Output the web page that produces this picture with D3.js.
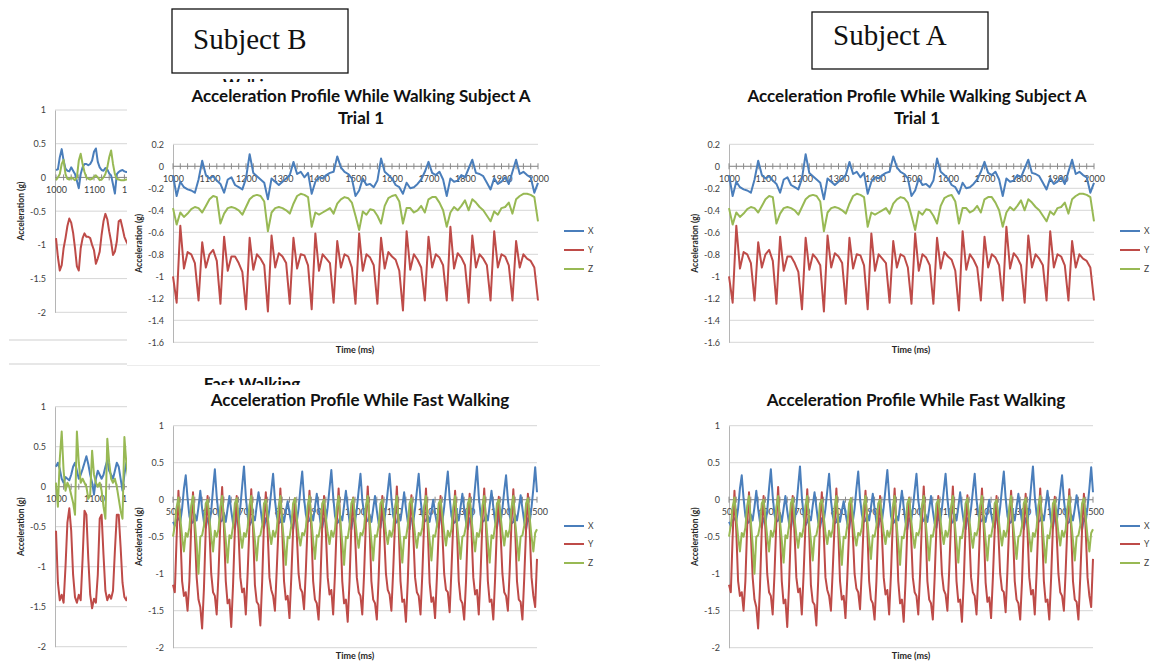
<!DOCTYPE html>
<html>
<head>
<meta charset="utf-8">
<script src="https://cdn.jsdelivr.net/npm/d3@7"></script>
<style>
  body { margin: 0; background: #fff; }
  svg { font-family: Lato, "Liberation Sans", sans-serif; }
</style>
</head>
<body>
<svg id="fig" width="1151" height="665"></svg>
<script>
// ---- data ----
const seriesNames = ["X", "Y", "Z"];

// walking, subject A (trial 1), sampled every 10 ms
const walkTimes = d3.range(1000, 2001, 10);
const walkX = [-0.08, -0.27, -0.14, -0.19, -0.21, -0.22, -0.24, -0.12, 0.05, -0.08,
  -0.11, -0.09, -0.13, -0.16, -0.24, -0.12, -0.10, -0.17, -0.19, -0.21,
  -0.11, 0.11, -0.06, -0.09, -0.12, -0.15, -0.30, -0.11, -0.14, -0.17,
  -0.14, -0.11, -0.08, 0.04, -0.07, -0.05, -0.10, -0.06, -0.25, -0.14,
  -0.10, -0.11, -0.08, -0.06, -0.05, 0.09, -0.01, -0.05, -0.07, -0.11,
  -0.27, -0.22, -0.11, -0.17, -0.16, -0.19, -0.13, 0.07, -0.05, -0.08,
  -0.11, -0.17, -0.19, -0.25, -0.15, -0.20, -0.19, -0.16, -0.12, -0.05,
  0.04, -0.06, -0.08, -0.05, -0.12, -0.27, -0.11, -0.14, -0.13, -0.08,
  -0.10, -0.02, 0.06, -0.06, -0.07, -0.09, -0.15, -0.21, -0.11, -0.16,
  -0.14, -0.10, -0.16, -0.05, 0.06, -0.07, -0.05, -0.08, -0.10, -0.24,
  -0.15];
const walkY = [-1.00, -1.24, -0.54, -0.93, -0.78, -0.80, -0.88, -1.22, -0.69, -0.92,
  -0.80, -0.76, -0.86, -1.25, -0.64, -0.95, -0.82, -0.82, -0.88, -0.96,
  -1.30, -0.65, -0.94, -0.80, -0.84, -0.90, -1.32, -0.63, -0.92, -0.79,
  -0.82, -0.88, -1.25, -0.65, -0.93, -0.80, -0.81, -0.90, -1.30, -0.61,
  -0.95, -0.80, -0.84, -0.88, -1.24, -0.68, -0.92, -0.80, -0.82, -0.92,
  -1.25, -0.61, -0.95, -0.80, -0.83, -0.90, -1.25, -0.65, -0.93, -0.78,
  -0.82, -0.85, -0.95, -1.31, -0.59, -0.94, -0.80, -0.85, -0.92, -1.22,
  -0.64, -0.92, -0.80, -0.83, -0.90, -1.22, -0.55, -0.93, -0.79, -0.83,
  -0.90, -1.24, -0.63, -0.92, -0.80, -0.84, -0.90, -1.22, -0.59, -0.92,
  -0.80, -0.82, -0.90, -1.22, -0.68, -0.92, -0.80, -0.84, -0.86, -0.92,
  -1.22];
const walkZ = [-0.38, -0.53, -0.42, -0.46, -0.43, -0.39, -0.37, -0.38, -0.42, -0.36,
  -0.30, -0.27, -0.28, -0.52, -0.43, -0.38, -0.37, -0.38, -0.40, -0.44,
  -0.37, -0.30, -0.27, -0.26, -0.27, -0.32, -0.59, -0.42, -0.38, -0.37,
  -0.38, -0.40, -0.43, -0.34, -0.27, -0.25, -0.26, -0.28, -0.55, -0.42,
  -0.44, -0.42, -0.40, -0.38, -0.43, -0.34, -0.30, -0.28, -0.29, -0.33,
  -0.45, -0.58, -0.41, -0.44, -0.39, -0.40, -0.45, -0.52, -0.36, -0.29,
  -0.27, -0.26, -0.32, -0.52, -0.38, -0.38, -0.42, -0.40, -0.36, -0.42,
  -0.30, -0.28, -0.28, -0.33, -0.40, -0.55, -0.42, -0.37, -0.40, -0.36,
  -0.31, -0.40, -0.30, -0.33, -0.37, -0.40, -0.45, -0.50, -0.41, -0.44,
  -0.38, -0.37, -0.33, -0.43, -0.30, -0.27, -0.25, -0.25, -0.26, -0.28,
  -0.50];

// fast walking, subject A, sampled every 5 ms
const fastTimes = d3.range(500, 1501, 5);
const fastX = [-0.30, -0.35, -0.28,
  -0.25, -0.30, -0.12, 0.15, 0.33, 0.02, -0.22, -0.32,
  -0.30, -0.20, -0.28, -0.10, 0.12, -0.12, -0.30, -0.38,
  -0.25, -0.32, -0.15, 0.15, 0.41, 0.05, -0.20, -0.30,
  -0.28, -0.18, -0.30, -0.12, 0.05, -0.15, -0.32, -0.40,
  -0.22, -0.30, -0.10, 0.18, 0.45, 0.05, -0.22, -0.35,
  -0.30, -0.22, -0.28, -0.08, 0.10, -0.10, -0.30, -0.38,
  -0.25, -0.30, -0.12, 0.12, 0.35, 0.00, -0.22, -0.32,
  -0.30, -0.20, -0.30, -0.15, -0.02, -0.18, -0.32, -0.40,
  -0.22, -0.30, -0.12, 0.15, 0.38, 0.02, -0.20, -0.30,
  -0.28, -0.20, -0.28, -0.10, 0.08, -0.12, -0.30, -0.38,
  -0.25, -0.30, -0.10, 0.15, 0.40, 0.05, -0.22, -0.32,
  -0.30, -0.22, -0.28, -0.08, 0.12, -0.10, -0.30, -0.40,
  -0.25, -0.30, -0.12, 0.12, 0.35, 0.00, -0.20, -0.30,
  -0.28, -0.20, -0.30, -0.12, 0.05, -0.15, -0.32, -0.38,
  -0.22, -0.30, -0.12, 0.12, 0.35, 0.02, -0.22, -0.32,
  -0.30, -0.20, -0.28, -0.10, 0.10, -0.12, -0.30, -0.40,
  -0.25, -0.30, -0.12, 0.12, 0.35, 0.00, -0.20, -0.30,
  -0.28, -0.22, -0.30, -0.15, 0.00, -0.18, -0.32, -0.38,
  -0.22, -0.30, -0.10, 0.15, 0.38, 0.02, -0.22, -0.32,
  -0.30, -0.20, -0.28, -0.10, 0.08, -0.12, -0.30, -0.40,
  -0.25, -0.30, -0.10, 0.18, 0.45, 0.05, -0.20, -0.30,
  -0.28, -0.20, -0.28, -0.08, 0.12, -0.10, -0.30, -0.38,
  -0.22, -0.30, -0.12, 0.12, 0.33, 0.00, -0.22, -0.32,
  -0.30, -0.20, -0.28, -0.12, 0.06, -0.12, -0.30, -0.40,
  -0.25, -0.30, -0.10, 0.15, 0.44, 0.10];
const fastY = [-1.15, -1.25, -0.50,
  0.12, -0.42, -1.10, -1.30, -1.25, -1.50, -1.10, -0.35,
  0.10, -0.45, -1.05, -1.35, -1.45, -1.74, -1.20, -0.40,
  0.05, -0.40, -1.00, -1.25, -1.30, -1.55, -1.00, -0.30,
  0.17, -0.38, -1.10, -1.40, -1.35, -1.72, -1.15, -0.40,
  0.05, -0.45, -1.05, -1.25, -1.20, -1.55, -1.00, -0.35,
  0.14, -0.40, -1.15, -1.38, -1.42, -1.70, -1.10, -0.30,
  0.10, -0.42, -1.05, -1.22, -1.30, -1.50, -0.95, -0.35,
  0.15, -0.40, -1.10, -1.35, -1.30, -1.60, -1.05, -0.40,
  0.02, -0.45, -1.00, -1.20, -1.25, -1.48, -0.95, -0.30,
  0.12, -0.40, -1.10, -1.35, -1.40, -1.62, -1.10, -0.35,
  0.05, -0.45, -1.05, -1.28, -1.22, -1.55, -1.00, -0.30,
  0.15, -0.38, -1.10, -1.40, -1.35, -1.65, -1.10, -0.35,
  0.03, -0.45, -1.05, -1.25, -1.30, -1.55, -1.00, -0.30,
  0.18, -0.35, -1.10, -1.35, -1.40, -1.62, -1.05, -0.35,
  0.05, -0.45, -1.00, -1.22, -1.28, -1.50, -0.95, -0.30,
  0.18, -0.38, -1.10, -1.38, -1.35, -1.65, -1.10, -0.35,
  0.06, -0.45, -1.05, -1.25, -1.30, -1.55, -1.00, -0.30,
  0.15, -0.40, -1.12, -1.38, -1.32, -1.60, -1.05, -0.40,
  0.05, -0.45, -1.00, -1.22, -1.25, -1.52, -0.95, -0.30,
  0.12, -0.40, -1.10, -1.35, -1.40, -1.62, -1.10, -0.35,
  0.08, -0.42, -1.05, -1.28, -1.22, -1.55, -1.00, -0.30,
  0.15, -0.38, -1.10, -1.38, -1.35, -1.62, -1.05, -0.35,
  0.04, -0.45, -1.00, -1.25, -1.30, -1.50, -0.95, -0.30,
  0.14, -0.40, -1.10, -1.35, -1.38, -1.62, -1.05, -0.40,
  0.08, -0.42, -1.05, -1.30, -1.45, -0.80];
const fastZ = [-0.50, -0.35, -0.10,
  0.03, -0.25, -0.50, -0.70, -0.45, -0.50, -0.38, -0.08,
  0.05, -0.30, -0.60, -1.00, -0.50, -0.48, -0.35, -0.05,
  0.00, -0.25, -0.50, -0.70, -0.42, -0.50, -0.40, -0.10,
  0.05, -0.28, -0.55, -0.85, -0.48, -0.52, -0.35, -0.05,
  0.02, -0.25, -0.48, -0.65, -0.45, -0.50, -0.38, -0.08,
  0.05, -0.30, -0.55, -0.82, -0.50, -0.48, -0.35, -0.05,
  0.00, -0.22, -0.45, -0.60, -0.42, -0.50, -0.40, -0.10,
  0.05, -0.30, -0.58, -0.88, -0.50, -0.52, -0.35, -0.05,
  0.02, -0.25, -0.48, -0.62, -0.45, -0.48, -0.38, -0.08,
  0.05, -0.28, -0.55, -0.80, -0.48, -0.50, -0.35, -0.05,
  0.00, -0.25, -0.45, -0.60, -0.42, -0.50, -0.40, -0.10,
  0.05, -0.30, -0.58, -0.88, -0.50, -0.52, -0.35, -0.05,
  0.02, -0.25, -0.48, -0.65, -0.45, -0.48, -0.38, -0.08,
  0.05, -0.28, -0.55, -0.82, -0.48, -0.50, -0.35, -0.05,
  0.00, -0.22, -0.45, -0.60, -0.42, -0.50, -0.40, -0.10,
  0.05, -0.30, -0.58, -0.85, -0.50, -0.52, -0.35, -0.05,
  0.02, -0.25, -0.48, -0.65, -0.45, -0.48, -0.38, -0.08,
  0.05, -0.28, -0.55, -0.82, -0.48, -0.50, -0.35, -0.05,
  0.00, -0.22, -0.45, -0.62, -0.42, -0.50, -0.40, -0.10,
  0.05, -0.30, -0.55, -0.80, -0.50, -0.48, -0.35, -0.05,
  0.02, -0.25, -0.50, -0.70, -0.45, -0.50, -0.38, -0.08,
  0.05, -0.28, -0.58, -0.85, -0.48, -0.52, -0.35, -0.05,
  0.00, -0.22, -0.45, -0.62, -0.42, -0.50, -0.40, -0.10,
  0.05, -0.30, -0.55, -0.82, -0.50, -0.48, -0.35, -0.05,
  0.02, -0.25, -0.50, -0.70, -0.45, -0.40];

// subject B, only the first ~190 ms are visible (rest hidden under A's chart)
const partTimes = d3.range(1000, 1191, 5);
const walkBX = [0.11, 0.12, 0.30, 0.42, 0.25, 0.13, 0.10, 0.09, 0.15, 0.10,
  0.05, -0.05, -0.16, 0.05, 0.15, 0.20, 0.20, 0.18, 0.20, 0.25,
  0.38, 0.43, 0.23, 0.15, 0.11, 0.10, 0.14, 0.12, 0.06, 0.03,
  -0.10, -0.24, 0.05, 0.08, 0.10, 0.11, 0.09, 0.08, 0.08];
const walkBY = [-0.90, -1.18, -1.38, -1.30, -1.05, -0.90, -0.72, -0.61, -0.67, -0.82,
  -1.05, -1.32, -1.38, -1.05, -0.90, -0.83, -0.88, -0.88, -0.90, -1.00,
  -1.08, -1.28, -1.20, -1.10, -0.85, -0.65, -0.54, -0.62, -0.80, -0.95,
  -1.15, -1.10, -0.95, -0.65, -0.63, -0.75, -0.88, -0.95, -1.00];
const walkBZ = [-0.04, 0.00, 0.05, 0.20, 0.26, 0.05, -0.02, -0.03, 0.00, -0.02,
  -0.04, 0.00, 0.25, 0.35, 0.20, 0.08, 0.00, -0.02, -0.03, -0.02,
  0.01, 0.03, 0.00, -0.04, -0.03, 0.00, 0.05, 0.15, 0.30, 0.40,
  0.20, 0.05, -0.02, -0.03, -0.04, -0.04, -0.04, -0.03, -0.03];
const fastBX = [0.25, 0.30, 0.22, 0.10, 0.05, 0.12, 0.10, 0.08, 0.15, 0.25,
  0.30, 0.20, 0.10, 0.15, 0.22, 0.30, 0.38, 0.28, 0.15, 0.05,
  -0.10, 0.10, 0.20, 0.15, 0.10, 0.15, 0.25, 0.33, 0.20, 0.15,
  0.10, 0.20, 0.30, 0.25, 0.10, -0.05, 0.15, 0.30, 0.25];
const fastBY = [-0.55, -1.20, -1.42, -1.35, -1.45, -1.00, -0.45, -0.27, -0.55, -1.10,
  -1.38, -1.45, -1.35, -1.42, -0.90, -0.30, -0.35, -0.90, -1.35, -1.52,
  -1.40, -1.45, -1.10, -0.40, -0.35, -0.85, -1.30, -1.42, -1.35, -1.40,
  -1.30, -0.80, -0.35, -0.35, -0.75, -1.20, -1.38, -1.42, -1.35];
const fastBZ = [0.05, -0.25, 0.35, 0.69, 0.20, -0.05, 0.05, 0.00, -0.10, -0.20,
  -0.35, 0.69, 0.30, 0.05, 0.10, 0.05, 0.00, -0.15, -0.10, 0.45,
  0.15, 0.05, 0.00, 0.05, -0.05, -0.25, -0.40, 0.60, 0.30, 0.10,
  0.05, 0.10, 0.00, -0.15, -0.30, -0.40, 0.62, 0.30, 0.10];

// tick labels
const walkXTicks = [1000, 1100, 1200, 1300, 1400, 1500, 1600, 1700, 1800, 1900, 2000];
const walkYTicks = [0.2, 0, -0.2, -0.4, -0.6, -0.8, -1, -1.2, -1.4, -1.6];
const fastXTicks = [500, 600, 700, 800, 900, 1000, 1100, 1200, 1300, 1400, 1500];
const fastYTicks = [1, 0.5, 0, -0.5, -1, -1.5, -2];
const partXTicks = [1000, 1100, 1200];
const partYTicks = [1, 0.5, 0, -0.5, -1, -1.5, -2];

// ---- drawing ----
const svg = d3.select("#fig");
const colors = {X: "#4a7ebb", Y: "#be4b48", Z: "#98b954"};
const FONT = "Lato, 'Liberation Sans', sans-serif";

function drawPlot(g, c) {
  const x = d3.scaleLinear().domain(c.xDom).range(c.xRange);
  const y = d3.scaleLinear().domain(c.yDom).range([c.bottom, c.top]);

  // gridlines
  g.append("g").selectAll("line").data(c.yTicks).join("line")
    .attr("x1", c.left).attr("x2", c.right)
    .attr("y1", d => y(d)).attr("y2", d => y(d))
    .attr("stroke", "#d6d6d6").attr("stroke-width", 1);

  // value axis
  g.append("g").attr("transform", `translate(${c.left},0)`)
    .call(d3.axisLeft(y).tickValues(c.yTicks).tickSize(0).tickSizeOuter(0)
      .tickPadding(9).tickFormat(d => String(d)))
    .call(a => a.select(".domain").attr("stroke", "#b5b5b5"))
    .call(a => a.attr("font-family", FONT).attr("font-size", 9))
    .call(a => a.selectAll("text").attr("fill", "#404040"));

  // category labels (drawn under the series, like the original)
  g.append("g").attr("transform", `translate(0,${y(0)})`)
    .call(d3.axisBottom(x).tickValues(c.xTicks).tickSize(0).tickPadding(9).tickFormat(d => String(d)))
    .call(a => a.select(".domain").remove())
    .call(a => a.attr("font-family", FONT).attr("font-size", 9))
    .call(a => a.selectAll("text").attr("fill", "#404040"));

  // horizontal axis at zero with small crossing ticks
  g.append("line").attr("x1", c.left).attr("x2", c.right)
    .attr("y1", y(0)).attr("y2", y(0)).attr("stroke", "#8a8a8a");
  g.append("g").selectAll("line").data(c.minor).join("line")
    .attr("x1", d => x(d)).attr("x2", d => x(d))
    .attr("y1", y(0) - 3).attr("y2", y(0) + 3)
    .attr("stroke", "#8a8a8a");

  // series
  const line = d3.line()
    .defined((d, i) => i < c.times.length)
    .x((d, i) => x(c.times[i]))
    .y(d => y(d));
  seriesNames.forEach(s => {
    g.append("path").datum(c.data[s])
      .attr("d", line)
      .attr("fill", "none")
      .attr("stroke", colors[s])
      .attr("stroke-width", 2)
      .attr("stroke-linejoin", "round");
  });

  // value axis title
  g.append("text")
    .attr("transform", `translate(${c.left - 31},${(c.top + c.bottom) / 2}) rotate(-90)`)
    .attr("text-anchor", "middle")
    .attr("font-size", 8.5).attr("font-weight", "bold").attr("fill", "#262626")
    .text("Acceleration (g)");
}

function mainChart(ox, c) {
  const g = svg.append("g");
  const cc = Object.assign({}, c, {
    left: c.left + ox, right: c.right + ox,
    xRange: [c.left + ox, c.right + ox]
  });
  drawPlot(g, cc);

  c.title.forEach((t, i) => {
    g.append("text").attr("x", c.titleX + ox).attr("y", c.titleY[i])
      .attr("text-anchor", "middle").attr("font-size", 17).attr("font-weight", "bold")
      .attr("fill", "#111").text(t);
  });

  g.append("text").attr("x", c.timeX + ox).attr("y", c.timeY)
    .attr("text-anchor", "middle").attr("font-size", 9).attr("font-weight", "bold")
    .attr("fill", "#262626").text("Time (ms)");

  // legend
  const lg = g.append("g");
  seriesNames.forEach((s, i) => {
    lg.append("line").attr("x1", 564 + ox).attr("x2", 584 + ox)
      .attr("y1", c.legendY[i]).attr("y2", c.legendY[i])
      .attr("stroke", colors[s]).attr("stroke-width", 2);
    lg.append("text").attr("x", 588 + ox).attr("y", c.legendY[i]).attr("dy", "0.35em")
      .attr("font-size", 8.5).attr("fill", "#404040").text(s);
  });
}

// Subject B charts (mostly hidden under the Subject A copy)
const partCommon = {
  xDom: [1000, 1100], xRange: [56, 94], left: 55, right: 140,
  yDom: [-2, 1], yTicks: partYTicks, xTicks: partXTicks,
  minor: d3.range(1000, 1200, 20), times: partTimes
};
const gB1 = svg.append("g");
drawPlot(gB1, Object.assign({}, partCommon, {top: 110, bottom: 312.3,
  data: {X: walkBX, Y: walkBY, Z: walkBZ}}));
const gB2 = svg.append("g");
drawPlot(gB2, Object.assign({}, partCommon, {top: 406.7, bottom: 646.7,
  data: {X: fastBX, Y: fastBY, Z: fastBZ}}));

// chart borders of the hidden charts
[340, 364].forEach(yy => {
  svg.append("line").attr("x1", 9).attr("x2", 127).attr("y1", yy).attr("y2", yy)
    .attr("stroke", "#cfcfcf");
});

// B chart titles peeking out from under the A copy (clipped like the original)
const defs = svg.append("defs");
defs.append("clipPath").attr("id", "peek1").append("rect")
  .attr("x", 127).attr("y", 70).attr("width", 300).attr("height", 12);
defs.append("clipPath").attr("id", "peek2").append("rect")
  .attr("x", 127).attr("y", 366).attr("width", 300).attr("height", 19);
svg.append("text").attr("clip-path", "url(#peek1)")
  .attr("x", 252).attr("y", 90).attr("text-anchor", "middle")
  .attr("font-size", 16).attr("font-weight", "bold").attr("fill", "#111").text("Walking");
svg.append("text").attr("clip-path", "url(#peek2)")
  .attr("x", 252).attr("y", 390).attr("text-anchor", "middle")
  .attr("font-size", 17).attr("font-weight", "bold").attr("fill", "#111").text("Fast Walking");

svg.append("line").attr("x1", 127).attr("x2", 600).attr("y1", 365.5).attr("y2", 365.5).attr("stroke", "#ececec");

const walkCfg = {
  xDom: [1000, 2000], left: 173, right: 538, top: 144.3, bottom: 342.3,
  yDom: [-1.6, 0.2], yTicks: walkYTicks, xTicks: walkXTicks,
  minor: d3.range(1000, 2001, 20), times: walkTimes,
  data: {X: walkX, Y: walkY, Z: walkZ},
  title: ["Acceleration Profile While Walking Subject A", "Trial 1"],
  titleX: 361, titleY: [102, 124],
  timeX: 355, timeY: 353, legendY: [231, 250, 269]
};
const fastCfg = {
  xDom: [500, 1500], left: 173, right: 537, top: 425.7, bottom: 647.7,
  yDom: [-2, 1], yTicks: fastYTicks, xTicks: fastXTicks,
  minor: d3.range(500, 1501, 20), times: fastTimes,
  data: {X: fastX, Y: fastY, Z: fastZ},
  title: ["Acceleration Profile While Fast Walking"],
  titleX: 360, titleY: [406],
  timeX: 355, timeY: 659, legendY: [526, 544, 563]
};

// white panels of the Subject A copy sit over the Subject B charts
svg.append("rect").attr("x", 127).attr("y", 82).attr("width", 500).attr("height", 283).attr("fill", "#fff");
svg.append("rect").attr("x", 127).attr("y", 386).attr("width", 500).attr("height", 279).attr("fill", "#fff");

[0, 556].forEach(ox => {
  mainChart(ox, walkCfg);
  mainChart(ox, fastCfg);
});

// subject labels
const boxes = [
  {label: "Subject B", x: 172, y: 9, w: 176, h: 64, ty: 49},
  {label: "Subject A", x: 812, y: 12, w: 176, h: 57, ty: 45}
];
boxes.forEach(b => {
  svg.append("rect").attr("x", b.x).attr("y", b.y).attr("width", b.w).attr("height", b.h)
    .attr("fill", "#fff").attr("stroke", "#111").attr("stroke-width", 1.3);
  svg.append("text").attr("x", b.x + 21).attr("y", b.ty)
    .style("font-family", "'Liberation Serif', 'DejaVu Serif', serif")
    .attr("font-size", 29).attr("fill", "#111").text(b.label);
});
</script>
</body>
</html>
